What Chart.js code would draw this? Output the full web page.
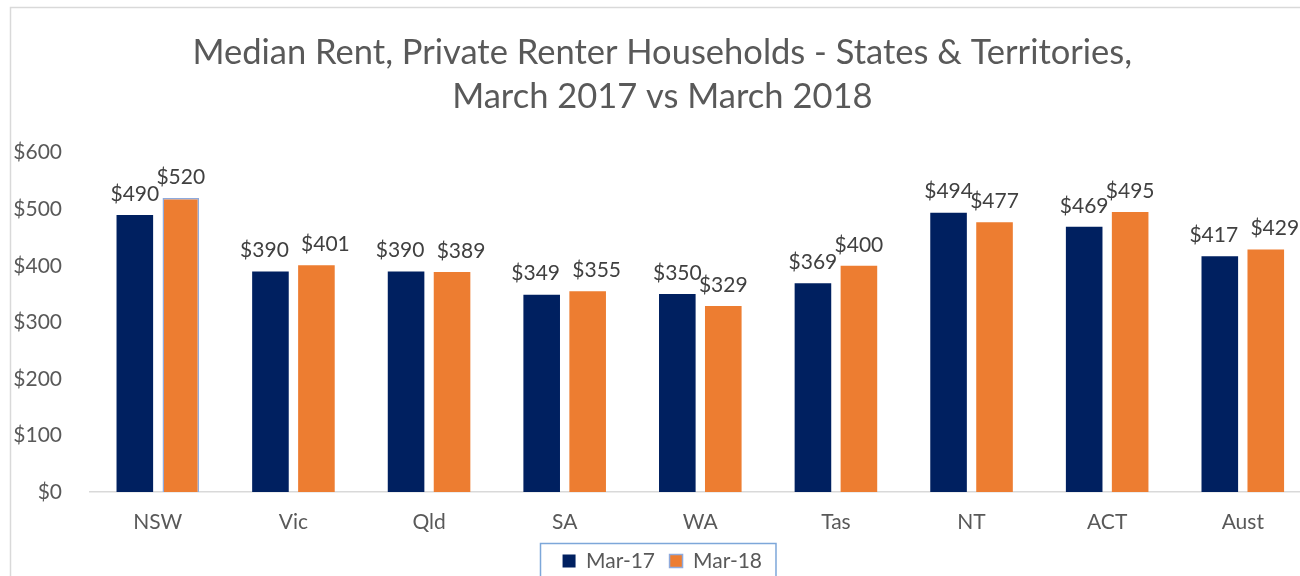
<!DOCTYPE html>
<html>
<head>
<meta charset="utf-8">
<script src="https://cdn.jsdelivr.net/npm/chart.js@4.4.1/dist/chart.umd.min.js"></script>
<style>
  html, body { margin: 0; padding: 0; background: #fff; overflow: hidden; }
  #wrap { position: absolute; left: 0; top: 0; width: 1330px; height: 576px; }
</style>
</head>
<body>
<div id="wrap"><canvas id="grafico" width="1330" height="576"></canvas></div>
<script>
const categorias = ["NSW", "Vic", "Qld", "SA", "WA", "Tas", "NT", "ACT", "Aust"];
const mar17 = [490, 390, 390, 349, 350, 369, 494, 469, 417];
const mar18 = [520, 401, 389, 355, 329, 400, 477, 495, 429];
const ticksY = [0, 100, 200, 300, 400, 500, 600];
const titulo = ["Median Rent, Private Renter Households - States & Territories,", "March 2017 vs March 2018"];

const fuente = "Lato";
const gris = "#595959";

// etiquetas de valor encima de cada barra
const etiquetas = {
    id: "etiquetas",
    afterDatasetsDraw(chart) {
        const ctx = chart.ctx;
        const a = chart.getDatasetMeta(0).data;
        const b = chart.getDatasetMeta(1).data;
        ctx.save();
        ctx.font = "21px " + fuente;
        ctx.fillStyle = "#404040";
        ctx.textAlign = "center";
        ctx.textBaseline = "middle";
        chart.data.datasets.forEach((ds, i) => {
            chart.getDatasetMeta(i).data.forEach((bar, j) => {
                // separar un poco las etiquetas cuando quedan a la misma altura
                let dx = 0;
                if (Math.abs(a[j].y - b[j].y) < 8) dx = i === 0 ? -6 : 9;
                ctx.fillText("$" + ds.data[j], bar.x + dx, bar.y - 21);
            });
        });
        ctx.restore();
    }
};

// borde del grafico y recuadro de la leyenda
const bordes = {
    id: "bordes",
    afterDraw(chart) {
        const ctx = chart.ctx;
        ctx.save();
        ctx.strokeStyle = "#d9d9d9";
        ctx.lineWidth = 1.5;
        ctx.strokeRect(10.5, 7.5, 1400, 700);
        const cajas = chart.legend.legendHitBoxes;
        if (cajas && cajas.length) {
            const x0 = cajas[0].left - 23;
            const last = cajas[cajas.length - 1];
            const x1 = last.left + last.width + 13;
            const y0 = cajas[0].top - 7.5;
            ctx.strokeStyle = "#7da7d9";
            ctx.strokeRect(Math.round(x0) + 0.5, Math.round(y0) + 0.5, x1 - x0, 60);
        }
        ctx.restore();
    }
};

new Chart(document.getElementById("grafico").getContext("2d"), {
    type: "bar",
    data: {
        labels: categorias,
        datasets: [{
            label: "Mar-17",
            data: mar17,
            backgroundColor: "#002060",
            borderWidth: 0,
            categoryPercentage: 0.678,
            barPercentage: 0.796
        }, {
            label: "Mar-18",
            data: mar18,
            backgroundColor: "#ED7D31",
            borderColor: "#8FAADC",
            borderWidth: c => c.dataIndex === 0 ? 1.5 : 0,
            categoryPercentage: 0.678,
            barPercentage: 0.796
        }]
    },
    options: {
        responsive: false,
        animation: false,
        devicePixelRatio: 1,
        layout: { padding: { left: 14, right: 19.4, top: 0, bottom: -5.5 } },
        scales: {
            y: {
                min: 0,
                max: 600,
                afterBuildTicks: s => { s.ticks = ticksY.map(v => ({ value: v })); },
                afterFit: s => { s.width = 76; },
                grid: { display: false, drawTicks: false },
                border: { display: false },
                ticks: {
                    padding: 28,
                    color: gris,
                    font: { family: fuente, size: 21 },
                    callback: v => "$" + v
                }
            },
            x: {
                afterFit: s => { s.height = 44; },
                grid: { display: false, drawTicks: false },
                border: { display: true, color: "#d9d9d9", width: 1.5 },
                ticks: {
                    padding: 18,
                    color: gris,
                    font: { family: fuente, size: 21 }
                }
            }
        },
        plugins: {
            title: {
                display: true,
                text: titulo,
                color: gris,
                font: { family: fuente, size: 34.5, weight: "normal", lineHeight: 1.3 },
                padding: { top: 30, bottom: 33 }
            },
            legend: {
                position: "bottom",
                labels: {
                    color: gris,
                    font: { family: fuente, size: 21 },
                    boxWidth: 13,
                    boxHeight: 13,
                    padding: 14.5
                }
            },
            tooltip: { enabled: false }
        }
    },
    plugins: [etiquetas, bordes]
});
</script>
</body>
</html>
